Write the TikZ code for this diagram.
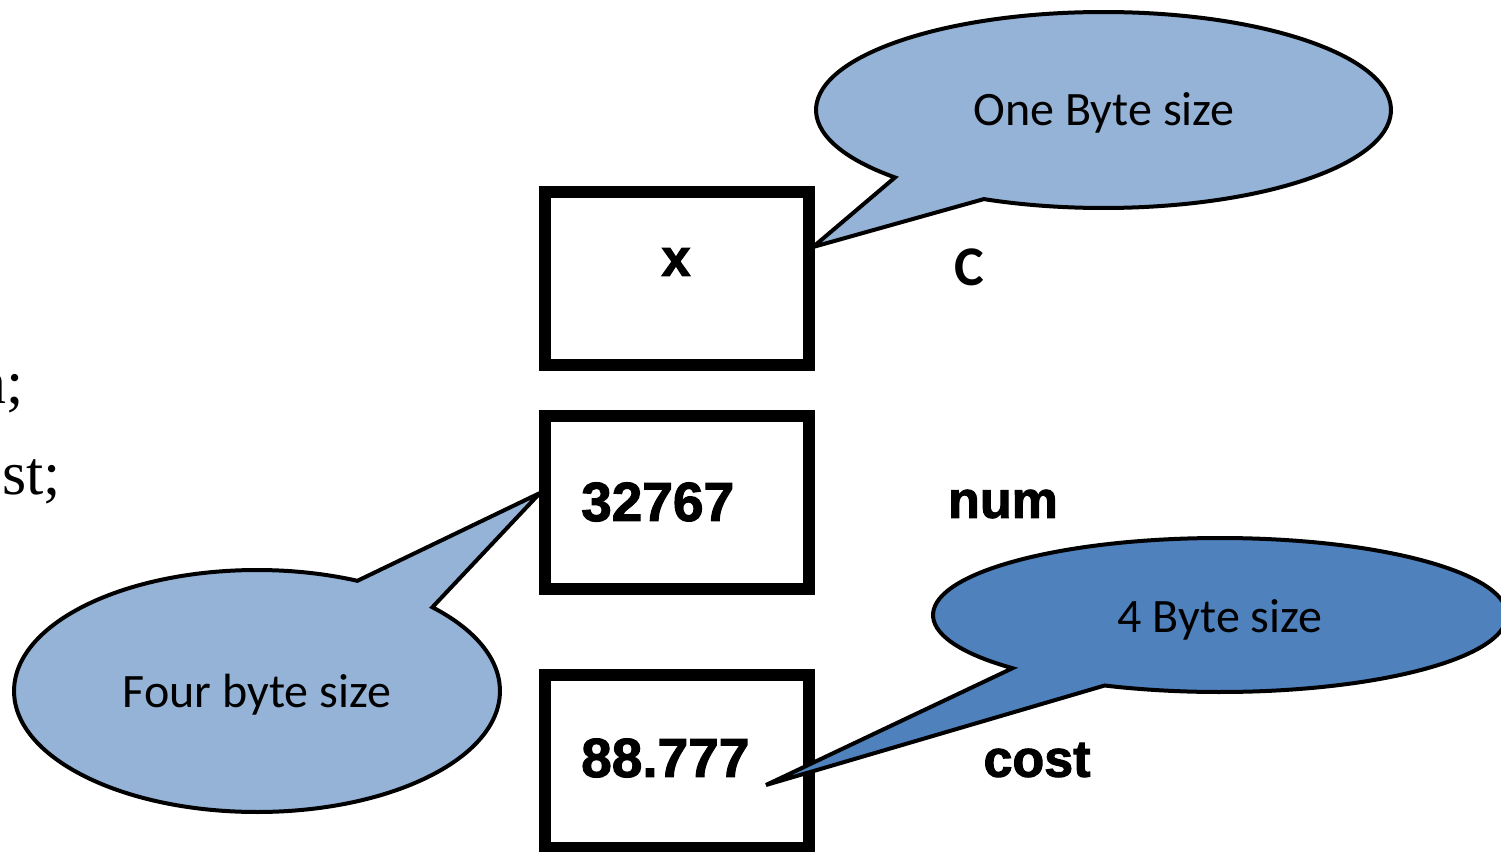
\documentclass[tikz,border=0pt]{standalone}
\usepackage{fontspec}
\setmainfont{Liberation Serif}
\newfontfamily\calib{Carlito}
\newfontfamily\heavy{Liberation Sans}[FakeBold=2]
\usetikzlibrary{calc}
\definecolor{calloutlight}{HTML}{95B3D7}
\definecolor{calloutdark}{HTML}{4F81BD}
\tikzset{
  cell/.style={draw=black, line width=12pt, minimum width=264.5pt,
    minimum height=173pt, inner sep=0pt},
  valtext/.style={inner sep=0pt, font=\heavy\bfseries\fontsize{55}{60}\selectfont},
  nametext/.style={inner sep=0pt, font=\heavy\bfseries\fontsize{52}{56}\selectfont},
  bubble/.style={draw=black, line width=4pt, line join=miter},
  bubbletext/.style={inner sep=0pt, font=\calib\fontsize{48}{52}\selectfont},
  codetext/.style={inner sep=0pt, anchor=base east, font=\fontsize{62}{66}\selectfont}
}
\begin{document}
\begin{tikzpicture}[x=1pt,y=-1pt]
\useasboundingbox (0,0) rectangle (1501,851);
\clip (0,0) rectangle (1501,851);

% declarations at the left margin
\node[codetext] (decl1) at (24,403) {n;};
\node[codetext] (decl2) at (61,494) {st;};

% memory cells
\node[cell] (bx) at (676.75,278.5) {};
\node[cell] (bnum) at (676.75,502.5) {};
\node[cell] (bcost) at (676.75,761) {};

\node[nametext] (vx) at (676,262) {x};
\node[valtext, anchor=west] (vnum) at (581,502) {32767};
\node[valtext, anchor=west] (vcost) at (581,758) {88.777};

% variable names
\node[inner sep=0pt, font=\calib\bfseries\fontsize{56}{60}\selectfont] (nc) at (969,267) {C};
\node[nametext] (nnum) at (1003,504) {num};
\node[nametext] (ncost) at (1037,760) {cost};

% callouts
\coordinate (tip1) at (813,247);
\filldraw[bubble, fill=calloutlight] (tip1)
  -- ($(1103.5,110)+(136.5:287.5 and 98)$)
  arc[start angle=136.5, end angle=474.6, x radius=287.5, y radius=98] -- cycle;
\node[bubbletext] (c1) at (1104,113) {One Byte size};

\coordinate (tip2) at (540,493);
\filldraw[bubble, fill=calloutlight] (tip2)
  -- ($(257,691)+(-43.8:243 and 121)$)
  arc[start angle=-43.8, end angle=294.4, x radius=243, y radius=121] -- cycle;
\node[bubbletext] (c2) at (257,695) {Four byte size};

\coordinate (tip3) at (766,785);
\filldraw[bubble, fill=calloutdark] (tip3)
  -- ($(1220,615)+(136.3:287 and 77)$)
  arc[start angle=136.3, end angle=473.7, x radius=287, y radius=77] -- cycle;
\node[bubbletext] (c3) at (1220,620) {4 Byte size};
\end{tikzpicture}
\end{document}
